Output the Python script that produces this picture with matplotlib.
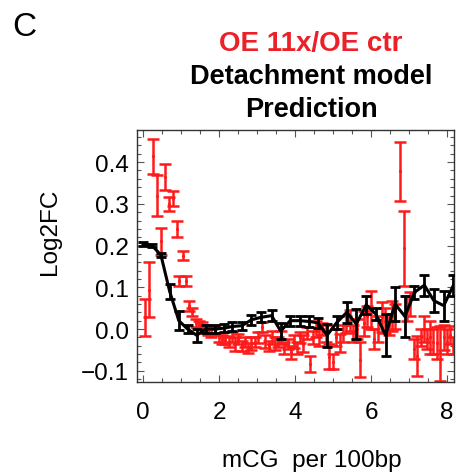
import matplotlib
matplotlib.use("Agg")
import matplotlib.pyplot as plt
from matplotlib.ticker import MultipleLocator

plt.rcParams['font.family'] = ['Liberation Sans', 'DejaVu Sans']

# Measured data (red): x position, log2FC, error half-width
meas_x = [0.05, 0.16, 0.27, 0.37, 0.48, 0.58, 0.69, 0.79, 0.88, 0.95, 1.06, 1.14,
          1.22, 1.30, 1.38, 1.46, 1.55, 1.63, 1.72, 1.80, 1.90, 2.00, 2.08, 2.16,
          2.25, 2.33, 2.42, 2.50, 2.60, 2.68, 2.77, 2.85, 2.94, 3.03, 3.12, 3.20,
          3.30, 3.38, 3.46, 3.55, 3.64, 3.72, 3.80, 3.88, 3.97, 4.05, 4.14, 4.22,
          4.30, 4.39, 4.47, 4.56, 4.64, 4.72, 4.80, 4.90, 5.00, 5.08, 5.18, 5.27,
          5.35, 5.45, 5.52, 5.62, 5.71, 5.80, 5.90, 6.00, 6.08, 6.18, 6.28, 6.37,
          6.46, 6.54, 6.62, 6.76, 6.87, 6.95, 7.03, 7.12, 7.20, 7.30, 7.38, 7.46,
          7.55, 7.63, 7.73, 7.82, 7.92, 8.00, 8.08, 8.16]
meas_y = [0.028, 0.094, 0.414, 0.320, 0.210, 0.364, 0.300, 0.313, 0.240, 0.116, 0.176, 0.116,
          0.055, 0.040, 0.015, 0.010, 0.008, 0.000, -0.005, -0.010, -0.005, -0.020, -0.025, -0.026,
          -0.030, -0.020, -0.036, -0.025, -0.040, -0.030, -0.045, -0.035, -0.030, -0.020, 0.006, -0.030,
          -0.040, -0.020, -0.035, -0.030, -0.020, -0.045, -0.035, -0.056, -0.030, -0.045, -0.020, -0.035,
          -0.010, -0.084, -0.020, 0.000, -0.020, 0.000, -0.010, -0.066, -0.078, -0.020, -0.034, -0.010,
          0.010, 0.020, -0.010, 0.000, -0.074, 0.014, 0.030, 0.046, -0.024, 0.000, 0.028, 0.020,
          0.010, 0.032, 0.030, 0.378, 0.194, 0.050, 0.060, -0.048, -0.064, -0.020, 0.000, -0.024,
          -0.020, -0.030, -0.034, -0.058, -0.020, -0.030, -0.014, -0.040]
meas_err = [0.044, 0.066, 0.042, 0.050, 0.033, 0.032, 0.016, 0.017, 0.020, 0.012, 0.010, 0.012,
            0.011, 0.010, 0.010, 0.010, 0.009, 0.010, 0.010, 0.010, 0.010, 0.010, 0.010, 0.010,
            0.012, 0.012, 0.016, 0.012, 0.012, 0.012, 0.012, 0.015, 0.012, 0.014, 0.012, 0.015,
            0.012, 0.015, 0.015, 0.012, 0.015, 0.015, 0.012, 0.016, 0.015, 0.015, 0.014, 0.020,
            0.015, 0.020, 0.015, 0.020, 0.020, 0.015, 0.020, 0.030, 0.018, 0.020, 0.022, 0.020,
            0.020, 0.025, 0.020, 0.025, 0.042, 0.030, 0.025, 0.046, 0.024, 0.030, 0.036, 0.030,
            0.025, 0.036, 0.030, 0.070, 0.090, 0.030, 0.028, 0.024, 0.048, 0.020, 0.030, 0.024,
            0.040, 0.030, 0.038, 0.066, 0.030, 0.030, 0.022, 0.020]

# Model prediction (black)
model_x = [0.00, 0.24, 0.47, 0.70, 0.94, 1.17, 1.41, 1.65, 1.90, 2.12, 2.35, 2.60,
           2.85, 3.10, 3.38, 3.62, 3.87, 4.12, 4.37, 4.60, 4.84, 5.10, 5.36, 5.61,
           5.87, 6.12, 6.38, 6.63, 6.89, 7.14, 7.40, 7.65, 7.91, 8.16]
model_y = [0.204, 0.200, 0.177, 0.090, 0.020, 0.000, -0.015, 0.000, 0.000, 0.002, 0.006, 0.008,
           0.022, 0.028, 0.032, -0.005, 0.020, 0.020, 0.018, 0.015, -0.015, 0.016, 0.040, 0.012,
           0.058, 0.036, -0.015, 0.060, 0.030, 0.088, 0.105, 0.068, 0.056, 0.104]
model_err = [0.004, 0.004, 0.005, 0.018, 0.023, 0.010, 0.016, 0.010, 0.010, 0.010, 0.010, 0.010,
             0.012, 0.012, 0.013, 0.020, 0.012, 0.012, 0.012, 0.012, 0.027, 0.015, 0.025, 0.035,
             0.022, 0.015, 0.050, 0.040, 0.050, 0.015, 0.025, 0.028, 0.036, 0.025]

fig = plt.figure(figsize=(4.57, 4.77), dpi=100)
ax = fig.add_axes([137 / 457, 1 - 383 / 477, 317 / 457, 252 / 477])

ax.errorbar(meas_x, meas_y, yerr=meas_err, fmt='.', color='#ff1a1a', ms=2.5,
            elinewidth=1.8, capsize=4.2, capthick=1.8, zorder=2)
ax.errorbar(model_x, model_y, yerr=model_err, fmt='-', color='black', lw=2.2,
            elinewidth=2.0, capsize=3.6, capthick=2.0, zorder=3)

ax.set_xlim(-0.16, 8.18)
ax.set_ylim(-0.127, 0.477)
ax.xaxis.set_major_locator(MultipleLocator(2))
ax.xaxis.set_minor_locator(MultipleLocator(0.5))
ax.yaxis.set_minor_locator(MultipleLocator(0.02))
ax.set_yticks([-0.1, 0.0, 0.1, 0.2, 0.3, 0.4])
ax.set_yticklabels(['\u22120.1', '0.0', '0.1', '0.2', '0.3', '0.4'])
ax.tick_params(which='both', direction='in', top=True, right=True, width=0.8, color='#555555')
ax.tick_params(which='major', length=5)
ax.tick_params(which='minor', length=3)
ax.tick_params(axis='x', labelsize=17.5, pad=14)
ax.tick_params(axis='y', labelsize=17.5, pad=6)
for s in ax.spines.values():
    s.set_linewidth(1.0)
    s.set_color('#333333')

ax.set_ylabel('Log2FC', fontsize=17.5)
ax.yaxis.set_label_coords(-0.24, 0.6)
ax.set_xlabel('mCG  per 100bp', fontsize=17.5)
ax.xaxis.set_label_coords(0.552, -0.265)

fig.text(311 / 457, 1 - 44 / 477, 'OE 11x/OE ctr', color='#ec2027', fontsize=20,
         fontweight='bold', ha='center', va='center')
fig.text(311 / 457, 1 - 77 / 477, 'Detachment model', color='black', fontsize=19.5,
         fontweight='bold', ha='center', va='center')
fig.text(311 / 457, 1 - 110 / 477, 'Prediction', color='black', fontsize=19.5,
         fontweight='bold', ha='center', va='center')
fig.text(12 / 457, 1 - 28 / 477, 'C', fontsize=24, ha='left', va='center')

fig.savefig('out.png', dpi=100)
